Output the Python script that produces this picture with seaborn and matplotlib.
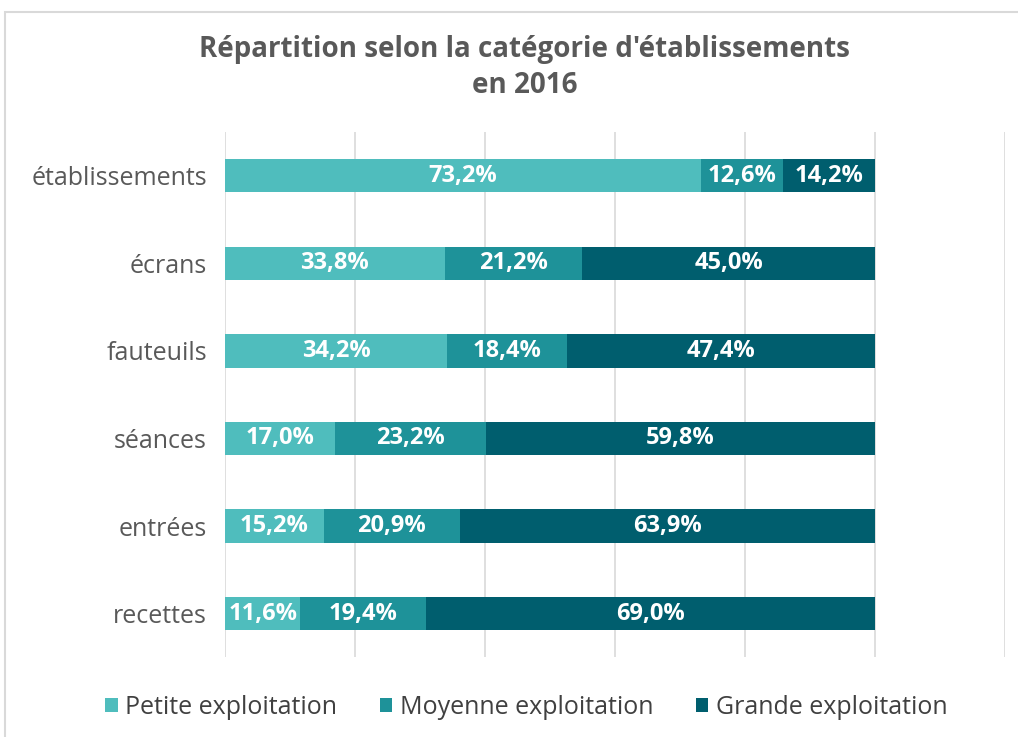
import matplotlib
matplotlib.use("Agg")
import matplotlib.pyplot as plt
import seaborn as sns
import pandas as pd
import numpy as np
from matplotlib.patches import Patch, Rectangle

categories = ["établissements", "écrans", "fauteuils", "séances", "entrées", "recettes"]
petite = [73.2, 33.8, 34.2, 17.0, 15.2, 11.6]
moyenne = [12.6, 21.2, 18.4, 23.2, 20.9, 19.4]
grande = [14.2, 45.0, 47.4, 59.8, 63.9, 69.0]
series_names = ["Petite exploitation", "Moyenne exploitation", "Grande exploitation"]
colors = ["#4fbdbd", "#1e9299", "#005e6e"]

sns.set_theme(style="white")
plt.rcParams['font.family'] = ['Open Sans', 'DejaVu Sans']

fig = plt.figure(figsize=(10.18, 7.37), dpi=100)
ax = fig.add_axes([0.221, 0.108, 0.766, 0.713])

df = pd.DataFrame({"cat": categories, "p": petite, "m": moyenne, "g": grande})
df["pm"] = df["p"] + df["m"]
df["pmg"] = df["pm"] + df["g"]

for col, c in [("pmg", colors[2]), ("pm", colors[1]), ("p", colors[0])]:
    sns.barplot(data=df, y="cat", x=col, orient="h", color=c, width=0.38,
                saturation=1, ax=ax, zorder=3, order=categories, linewidth=0)

# labels
for i in range(len(categories)):
    starts = [0, petite[i], petite[i] + moyenne[i]]
    vals = [petite[i], moyenne[i], grande[i]]
    for s, v in zip(starts, vals):
        ax.text(s + v / 2, i, f"{v:.1f}%".replace(".", ","), ha="center", va="center",
                color="white", fontsize=17, fontweight="bold", zorder=5)

ax.set_xlim(0, 120)
ax.set_ylim(5.5, -0.5)
ax.set_xticks(np.arange(0, 121, 20))
ax.set_xticklabels([])
ax.grid(axis="x", color="#d9d9d9", linewidth=1.2, zorder=0)
ax.tick_params(axis="x", length=0)
ax.tick_params(axis="y", length=0, pad=13, labelsize=18, labelcolor="#595959")
for s in ax.spines.values():
    s.set_visible(False)
ax.set_xlabel("")
ax.set_ylabel("")

fig.text(0.515, 0.933, "Répartition selon la catégorie d'établissements", ha="center",
         va="center", fontsize=20, fontweight="bold", color="#595959")
fig.text(0.515, 0.884, "en 2016", ha="center", va="center", fontsize=20,
         fontweight="bold", color="#595959")

handles = [Patch(facecolor=c, edgecolor="none") for c in colors]
fig.legend(handles, series_names, loc="center", bbox_to_anchor=(0.517, 0.04), ncol=3,
           frameon=False, fontsize=18, handlelength=0.5, handleheight=0.5,
           handletextpad=0.3, columnspacing=1.7, labelcolor="#404040")

# outer frame lines
fig.add_artist(Rectangle((0.005, -0.01), 1.2, 0.994, transform=fig.transFigure,
                         fill=False, edgecolor="#d9d9d9", linewidth=1.5))

fig.savefig("out.png", dpi=100)
